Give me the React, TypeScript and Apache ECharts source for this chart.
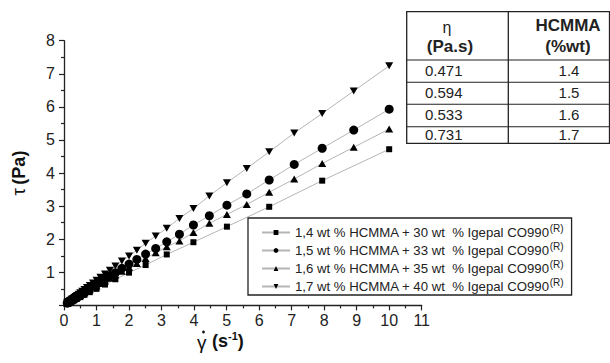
import React, { useEffect, useRef } from "react";
import * as echarts from "echarts";

// shear rates (s^-1), 20 points per decade and 10 points per decade
const shearRates20 = [0.1, 0.112, 0.126, 0.141, 0.158, 0.178, 0.2, 0.224, 0.251, 0.282, 0.316, 0.355, 0.398, 0.447, 0.501, 0.562, 0.631, 0.708, 0.794, 0.891, 1, 1.12, 1.26, 1.41, 1.58, 1.78, 2, 2.24, 2.51, 2.82, 3.16, 3.55, 3.98, 4.47, 5.01, 5.62, 6.31, 7.08, 7.94, 8.91, 10];
const shearRates10 = [0.1, 0.126, 0.158, 0.2, 0.251, 0.316, 0.398, 0.501, 0.631, 0.794, 1, 1.26, 1.58, 2, 2.51, 3.16, 3.98, 5.01, 6.31, 7.94, 10];

// shear stress tau (Pa)
const tau14 = [0.06, 0.07, 0.09, 0.11, 0.13, 0.16, 0.2, 0.25, 0.32, 0.4, 0.5, 0.63, 0.79, 0.99, 1.22, 1.54, 1.91, 2.38, 2.98, 3.77, 4.72];
const tau15 = [0.07, 0.08, 0.09, 0.1, 0.11, 0.12, 0.14, 0.15, 0.17, 0.19, 0.21, 0.24, 0.26, 0.29, 0.33, 0.37, 0.41, 0.46, 0.51, 0.57, 0.64, 0.71, 0.8, 0.89, 0.99, 1.12, 1.25, 1.39, 1.55, 1.72, 1.92, 2.15, 2.43, 2.71, 3.03, 3.37, 3.79, 4.26, 4.75, 5.3, 5.93];
const tau16 = [0.06, 0.07, 0.08, 0.09, 0.1, 0.11, 0.12, 0.14, 0.15, 0.17, 0.19, 0.21, 0.24, 0.27, 0.3, 0.34, 0.38, 0.42, 0.47, 0.53, 0.59, 0.66, 0.74, 0.82, 0.92, 1.03, 1.15, 1.27, 1.42, 1.59, 1.77, 1.95, 2.2, 2.48, 2.75, 3.05, 3.42, 3.82, 4.29, 4.78, 5.33];
const tau17 = [0.08, 0.09, 0.1, 0.11, 0.12, 0.14, 0.15, 0.17, 0.19, 0.21, 0.24, 0.27, 0.3, 0.34, 0.38, 0.43, 0.48, 0.54, 0.6, 0.68, 0.76, 0.85, 0.95, 1.06, 1.19, 1.34, 1.49, 1.67, 1.88, 2.1, 2.33, 2.63, 2.93, 3.31, 3.71, 4.14, 4.64, 5.21, 5.8, 6.48, 7.24];

const seriesNames = [
  "1,4 wt % HCMMA + 30 wt  % Igepal CO990",
  "1,5 wt % HCMMA + 33 wt  % Igepal CO990",
  "1,6 wt % HCMMA + 35 wt  % Igepal CO990",
  "1,7 wt % HCMMA + 40 wt  % Igepal CO990",
];

// inset table
const etaValues = ["0.471", "0.594", "0.533", "0.731"];
const hcmmaValues = ["1.4", "1.5", "1.6", "1.7"];

const FONT = "'Liberation Sans', Arial, sans-serif";

function pairs(xs: number[], ys: number[]) {
  return xs.map((x, i) => [x, ys[i]]);
}

export default function App() {
  const ref = useRef<HTMLDivElement>(null);
  useEffect(() => {
    if (!ref.current) return;
    const chart = echarts.init(ref.current, undefined, { renderer: "svg" });

    const lineStyle = { color: "#b5b5b5", width: 1 };
    const itemStyle = { color: "#000" };

    const tableLeft = 406.7;
    const tableRight = 609.5;
    const tableTop = 11.7;
    const tableBottom = 143.3;
    const colDiv = 508.3;
    const rowLines = [60, 82.3, 104.3, 126.7];
    const rowCenters = [70.5, 92.5, 114.5, 134.5];

    const graphics: any[] = [
      {
        type: "rect",
        shape: { x: tableLeft, y: tableTop, width: tableRight - tableLeft, height: tableBottom - tableTop },
        style: { fill: "#fff", stroke: "#222", lineWidth: 1.3 },
      },
      {
        type: "line",
        shape: { x1: colDiv, y1: tableTop, x2: colDiv, y2: tableBottom },
        style: { stroke: "#222", lineWidth: 1.3 },
      },
      ...rowLines.map((y) => ({
        type: "line",
        shape: { x1: tableLeft, y1: y, x2: tableRight, y2: y },
        style: { stroke: "#222", lineWidth: 1.1 },
      })),
      {
        type: "text",
        x: 447,
        y: 27,
        style: { text: "η", font: `16px ${FONT}`, fill: "#222", align: "center", verticalAlign: "middle" },
      },
      {
        type: "text",
        x: 450,
        y: 46.5,
        style: { text: "(Pa.s)", font: `bold 17px ${FONT}`, fill: "#222", align: "center", verticalAlign: "middle" },
      },
      {
        type: "text",
        x: 568,
        y: 25.5,
        style: { text: "HCMMA", font: `bold 17px ${FONT}`, fill: "#222", align: "center", verticalAlign: "middle" },
      },
      {
        type: "text",
        x: 568,
        y: 46,
        style: { text: "(%wt)", font: `bold 17px ${FONT}`, fill: "#222", align: "center", verticalAlign: "middle" },
      },
      ...etaValues.map((t, i) => ({
        type: "text",
        x: 425,
        y: rowCenters[i],
        style: { text: t, font: `15px ${FONT}`, fill: "#222", align: "left", verticalAlign: "middle" },
      })),
      ...hcmmaValues.map((t, i) => ({
        type: "text",
        x: 569,
        y: rowCenters[i],
        style: { text: t, font: `15px ${FONT}`, fill: "#222", align: "center", verticalAlign: "middle" },
      })),
      // x-axis title: gamma with dot above, then (s^-1)
      {
        type: "text",
        x: 197,
        y: 342,
        style: { text: "γ", font: `19px ${FONT}`, fill: "#111", align: "left", verticalAlign: "middle" },
      },
      {
        type: "circle",
        shape: { cx: 203.5, cy: 332, r: 1.4 },
        style: { fill: "#111" },
      },
      {
        type: "text",
        x: 212,
        y: 341,
        style: {
          text: "{b|(s}{s|-1}{b|)}",
          fill: "#111",
          align: "left",
          verticalAlign: "middle",
          rich: {
            b: { fontSize: 18, fontWeight: "bold", fontFamily: FONT, fill: "#111" },
            s: { fontSize: 11, fontWeight: "bold", fontFamily: FONT, fill: "#111", padding: [0, 0, 10, 0] },
          },
        },
      },
    ];

    const option: any = {
      animation: false,
      textStyle: { fontFamily: FONT },
      grid: { left: 64, right: 188.3, top: 40.7, bottom: 57.6, containLabel: false },
      xAxis: {
        type: "value",
        min: 0,
        max: 11,
        interval: 1,
        axisLine: { show: true, lineStyle: { color: "#222", width: 1.3 } },
        axisTick: { show: true, inside: false, length: 5, lineStyle: { color: "#222", width: 1.2 } },
        minorTick: { show: true, splitNumber: 2, length: 3, lineStyle: { color: "#222", width: 1.2 } },
        splitLine: { show: false },
        axisLabel: { fontSize: 16, color: "#222", margin: 7, fontFamily: FONT },
      },
      yAxis: {
        type: "value",
        min: 0,
        max: 8,
        interval: 1,
        name: "{t|τ} {b|(Pa)}",
        nameLocation: "middle",
        nameRotate: 90,
        nameGap: 36,
        nameTextStyle: {
          rich: {
            t: { fontSize: 19, fontFamily: FONT, color: "#111" },
            b: { fontSize: 18, fontWeight: "bold", fontFamily: FONT, color: "#111" },
          },
        },
        axisLine: { show: true, lineStyle: { color: "#222", width: 1.3 } },
        axisTick: { show: true, inside: false, length: 5, lineStyle: { color: "#222", width: 1.2 } },
        minorTick: { show: true, splitNumber: 2, length: 3, lineStyle: { color: "#222", width: 1.2 } },
        splitLine: { show: false },
        axisLabel: {
          fontSize: 16,
          color: "#222",
          margin: 9,
          fontFamily: FONT,
          formatter: (v: number) => (v === 0 ? "" : String(v)),
        },
      },
      legend: {
        orient: "vertical",
        left: 248,
        top: 218,
        padding: [5, 8, 2, 13],
        itemGap: 2,
        itemWidth: 28,
        itemHeight: 6,
        borderColor: "#222",
        borderWidth: 1.3,
        backgroundColor: "#fff",
        data: seriesNames,
        formatter: (name: string) => `{a|${name}}{s|(R)}`,
        textStyle: {
          color: "#222",
          rich: {
            a: { fontSize: 13.2, fontFamily: FONT, color: "#222" },
            s: { fontSize: 10, fontFamily: FONT, color: "#222", padding: [0, 0, 9, 0] },
          },
        },
      },
      graphic: graphics,
      series: [
        {
          name: seriesNames[0],
          type: "line",
          data: pairs(shearRates10, tau14),
          symbol: "rect",
          symbolSize: 6,
          lineStyle,
          itemStyle,
        },
        {
          name: seriesNames[1],
          type: "line",
          data: pairs(shearRates20, tau15),
          symbol: "circle",
          symbolSize: 9,
          lineStyle,
          itemStyle,
        },
        {
          name: seriesNames[2],
          type: "line",
          data: pairs(shearRates20, tau16),
          symbol: "triangle",
          symbolSize: [8, 7],
          lineStyle,
          itemStyle,
        },
        {
          name: seriesNames[3],
          type: "line",
          data: pairs(shearRates20, tau17),
          symbol: "triangle",
          symbolRotate: 180,
          symbolSize: [8, 7],
          lineStyle,
          itemStyle,
        },
      ],
    };
    chart.setOption(option);
    return () => chart.dispose();
  }, []);

  return (
    <div
      ref={ref}
      style={{ position: "absolute", left: 0, top: 0, width: 610, height: 363, background: "#fff" }}
    />
  );
}
